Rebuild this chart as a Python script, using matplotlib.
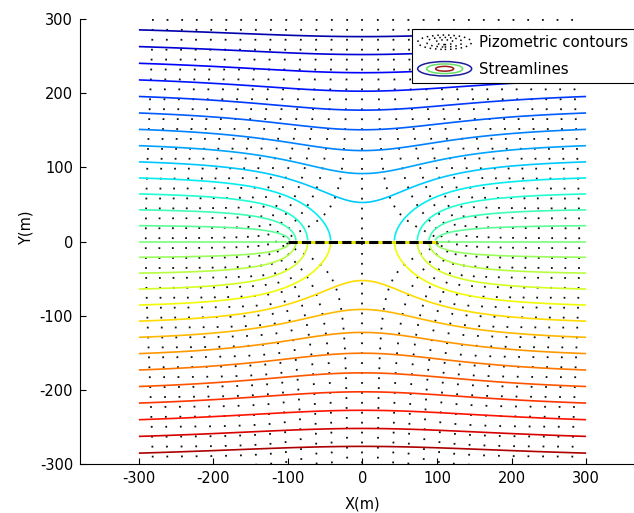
import numpy as np
import matplotlib.pyplot as plt
from matplotlib.legend_handler import HandlerBase
from matplotlib.patches import Ellipse
from matplotlib.lines import Line2D

plt.rcParams['font.family'] = 'DejaVu Sans'
plt.rcParams['font.size'] = 10.5
plt.rcParams['axes.unicode_minus'] = False

# fracture (infinite conductivity) in a uniform regional flow
crack_x = [-100, 100]
crack_y = [0, 0]
half_length = 100.0
domain = [-300, 300]

# contour levels
head_levels = [-273.0, -253.5, -234.0, -214.5, -195.0, -175.5, -156.0, -136.5,
               -117.0, -97.5, -78.0, -58.5, -39.0, -19.5, 0.0, 19.5, 39.0, 58.5,
               78.0, 97.5, 117.0, 136.5, 156.0, 175.5, 195.0, 214.5, 234.0,
               253.5, 273.0]
stream_levels = [-293.8, -271.2, -248.6, -226.0, -203.4, -180.8, -158.2, -135.6,
                 -113.0, -90.4, -67.8, -45.2, -22.6, 0.0, 22.6, 45.2, 67.8, 90.4,
                 113.0, 135.6, 158.2, 180.8, 203.4, 226.0, 248.6, 271.2, 293.8]

xticks = [-300, -200, -100, 0, 100, 200, 300]
yticks = [-300, -200, -100, 0, 100, 200, 300]

# complex potential  W = sqrt(z-a)*sqrt(z+a), branch cut on the fracture
xs = np.linspace(domain[0], domain[1], 600)
X, Y = np.meshgrid(xs, xs)
Z = X + 1j * Y
W = np.sqrt(Z - half_length) * np.sqrt(Z + half_length)
on_crack = (np.abs(X) <= half_length) & (np.abs(Y) < 1.0)
phi = np.ma.array(W.real, mask=on_crack)
psi = np.ma.array(W.imag, mask=on_crack)


class ContourIcon(HandlerBase):
    # matlab style contour legend icon: nested ellipses
    def __init__(self, colors, dotted=False):
        super().__init__()
        self.colors = colors
        self.dotted = dotted

    def create_artists(self, legend, orig_handle, xdescent, ydescent,
                       width, height, fontsize, trans):
        cx = 0.5 * width - xdescent
        cy = 0.5 * height - ydescent
        arts = []
        n = len(self.colors)
        for i, c in enumerate(self.colors):
            f = 1.0 - i / n
            e = Ellipse((cx, cy), width * f, height * f, fill=False,
                        edgecolor=c, lw=1.1, transform=trans)
            if self.dotted:
                e.set_linestyle((0, (1, 2.5)))
            arts.append(e)
        return arts


fig = plt.figure(figsize=(6.34, 5.13), dpi=100)
ax = fig.add_axes([80 / 634, 49 / 513, 565 / 634, 445 / 513])

cs_h = ax.contour(X, Y, phi, levels=head_levels, colors='0.05', linewidths=1.3)
cs_h.set_linestyle((0, (1, 4.5)))
cs_s = ax.contour(X, Y, psi, levels=stream_levels, cmap='jet_r',
                  vmin=-320, vmax=320, linewidths=1.2)

ax.plot(crack_x, crack_y, color='#e6e600', lw=2.2, solid_capstyle='butt')
ax.plot(crack_x, crack_y, color='k', lw=2.2, dashes=(3, 1.4),
        dash_capstyle='butt')

ax.set_xlim(-379, 379)
ax.set_ylim(-300, 300)
ax.set_xticks(xticks)
ax.set_yticks(yticks)
ax.spines['top'].set_visible(False)
ax.spines['right'].set_visible(False)
ax.spines['left'].set_linewidth(0.8)
ax.spines['bottom'].set_linewidth(0.8)
ax.tick_params(direction='in', length=4, width=0.8)
ax.tick_params(axis='x', pad=5)
ax.tick_params(axis='y', pad=5)

ax.set_xlabel('X(m)')
ax.xaxis.set_label_coords(0.5, -0.074)
ax.set_ylabel('Y(m)')
ax.yaxis.set_label_coords(-0.082, 0.53)

h_head = Line2D([], [])
h_stream = Line2D([], [])
leg = ax.legend([h_head, h_stream], ['Pizometric contours', 'Streamlines'],
                handler_map={h_head: ContourIcon(['k', 'k', 'k'], dotted=True),
                             h_stream: ContourIcon(['#1c1c9c', '#66e066', '#9c1c1c'])},
                loc='upper left', bbox_to_anchor=(0.587, 0.9775), borderaxespad=0,
                fancybox=False, framealpha=1, edgecolor='k', fontsize=10.8,
                handlelength=3.6, handleheight=1.1, handletextpad=0.5,
                labelspacing=0.75, borderpad=0.4)
leg.get_frame().set_linewidth(0.8)

fig.savefig('out.png', dpi=100)
